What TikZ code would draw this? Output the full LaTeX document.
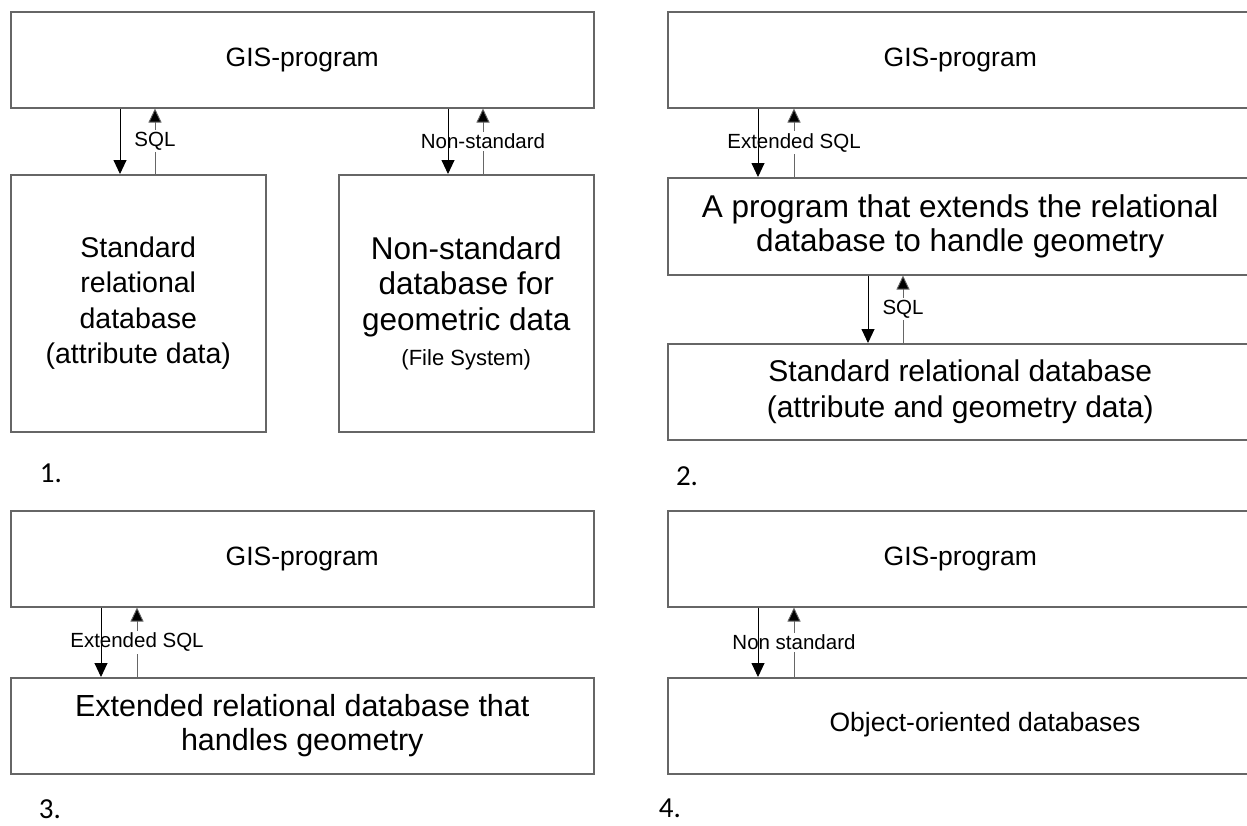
\documentclass[tikz,border=0pt]{standalone}
\usepackage{fontspec}
\setmainfont{Liberation Sans}
\newfontfamily\numfont{Carlito}
\usetikzlibrary{arrows.meta,calc}
\definecolor{frame}{rgb}{0.40,0.40,0.40}
\definecolor{upline}{rgb}{0.40,0.40,0.40}
\newcommand{\fs}[1]{\fontsize{#1}{1.15\dimexpr#1pt\relax}\selectfont}
\newcommand{\fsl}[2]{\fontsize{#1}{#2}\selectfont}
\tikzset{
  box/.style={draw=frame, line width=1.5pt, anchor=north west, inner sep=0pt,
    align=center, font=\fs{26.5}},
  txt/.style={align=center, inner sep=0pt, font=\fs{26.5}},
  lbl/.style={fill=white, inner sep=2pt, font=\fs{20.5}},
  num/.style={font=\numfont\fs{29}, inner sep=0pt},
  dn/.style={draw=black, line width=0.9pt, -{Triangle[length=14pt,width=13pt]}},
  upa/.style={draw=upline, line width=0.9pt, -{Triangle[length=14pt,width=13pt,fill=black]}}
}
\begin{document}
\begin{tikzpicture}[x=1pt,y=-1pt]
\useasboundingbox (0,0) rectangle (1247,825);
\clip (0,0) rectangle (1247,825);

% ---- scheme 1 ----
\node[box, minimum width=583pt, minimum height=96pt] (g1) at (10,11) {GIS-program};
\node[box, minimum width=255pt, minimum height=257pt, font=\fsl{28.5}{35.5}] (s1) at (10,174)
  {Standard\\relational\\database\\(attribute data)};
\node[box, minimum width=255pt, minimum height=257pt, font=\fsl{31.5}{35.5}] (n1) at (338,174)
  {Non-standard\\database for\\geometric data\\{\fsl{22}{38}(File System)}};
\node[num] (l1) at (51,473) {1.};

% ---- scheme 2 ----
\node[box, minimum width=585pt, minimum height=96pt] (g2) at (667,11) {GIS-program};
\node[box, minimum width=585pt, minimum height=97pt, font=\fsl{31.5}{34.5}] (x2) at (667,177)
  {A program that extends the relational\\database to handle geometry};
\node[box, minimum width=585pt, minimum height=96pt, font=\fsl{30}{35.5}] (d2) at (667,343)
  {Standard relational database\\(attribute and geometry data)};
\node[num] (l2) at (687,476) {2.};

% ---- scheme 3 ----
\node[box, minimum width=583pt, minimum height=96pt] (g3) at (10,510) {GIS-program};
\node[box, minimum width=583pt, minimum height=96pt, font=\fsl{30.5}{34}] (e3) at (10,677)
  {Extended relational database that\\handles geometry};
\node[num] (l3) at (50,809) {3.};

% ---- scheme 4 ----
\node[box, minimum width=585pt, minimum height=96pt] (g4) at (667,510) {GIS-program};
\node[box, minimum width=585pt, minimum height=96pt] (o4) at (667,677) {};
\node[txt] (o4t) at (985,725) {Object-oriented databases};
\node[num] (l4) at (670,808) {4.};

% ---- upward links (lines broken by their labels) ----
\draw[upa] ([xshift=145pt]s1.north west) -- ([xshift=145pt]g1.south west)
  node[lbl, midway] {SQL};
\draw[upa] ([xshift=145pt]n1.north west) -- ([xshift=145pt]g1.south west -| n1.west)
  node[lbl, midway] {Non-standard};
\draw[upa] ([xshift=127pt]x2.north west) -- ([xshift=127pt]g2.south west)
  node[lbl, midway] {Extended SQL};
\draw[upa] ([xshift=236pt]d2.north west) -- ([xshift=236pt]x2.south west)
  node[lbl, midway] {SQL};
\draw[upa] ([xshift=127pt]e3.north west) -- ([xshift=127pt]g3.south west)
  node[lbl, midway] {Extended SQL};
\draw[upa] ([xshift=127pt]o4.north west) -- ([xshift=127pt]g4.south west)
  node[lbl, midway] {Non standard};

% ---- downward links ----
\draw[dn] ([xshift=110pt]g1.south west) -- ([xshift=110pt]s1.north west);
\draw[dn] ([xshift=110pt]g1.south west -| n1.west) -- ([xshift=110pt]n1.north west);
\draw[dn] ([xshift=91pt]g2.south west) -- ([xshift=91pt]x2.north west);
\draw[dn] ([xshift=201pt]x2.south west) -- ([xshift=201pt]d2.north west);
\draw[dn] ([xshift=91pt]g3.south west) -- ([xshift=91pt]e3.north west);
\draw[dn] ([xshift=91pt]g4.south west) -- ([xshift=91pt]o4.north west);
\end{tikzpicture}
\end{document}
